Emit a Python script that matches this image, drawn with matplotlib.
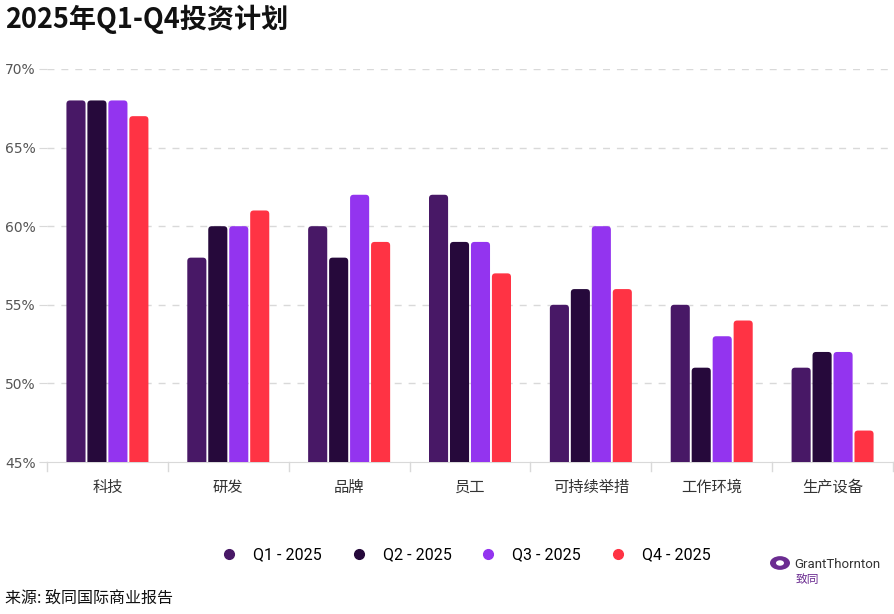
import matplotlib

matplotlib.use("Agg")
import matplotlib.pyplot as plt
from matplotlib.lines import Line2D
from matplotlib.patches import FancyBboxPatch, Circle

plt.rcParams["font.family"] = ["Noto Sans CJK SC", "DejaVu Sans"]

# --- data -------------------------------------------------------------------
categories = ["科技", "研发", "品牌", "员工", "可持续举措", "工作环境", "生产设备"]
series_names = ["Q1 - 2025", "Q2 - 2025", "Q3 - 2025", "Q4 - 2025"]
q1 = [68, 58, 60, 62, 55, 55, 51]
q2 = [68, 60, 58, 59, 56, 51, 52]
q3 = [68, 60, 62, 59, 60, 53, 52]
q4 = [67, 61, 59, 57, 56, 54, 47]
yticks = [45, 50, 55, 60, 65, 70]

COLORS = ["#481866", "#26093b", "#9334ef", "#ff3344"]
GRID = "#d9d9d9"
LABEL = "#555555"

W, H = 895, 614
AX_L, AX_R, AX_T, AX_B = 47, 893, 69, 462
fig = plt.figure(figsize=(W / 100, H / 100), dpi=100)
fig.patch.set_facecolor("white")
ax = fig.add_axes([AX_L / W, 1 - AX_B / H, (AX_R - AX_L) / W, (AX_B - AX_T) / H])

ax.set_xlim(-0.5, len(categories) - 0.5)
ax.set_ylim(45, 70)

# px -> data scale, used for the rounded bar tops
x_per_px = len(categories) / (AX_R - AX_L)
y_per_px = 25 / (AX_B - AX_T)

bw = 0.158
step = 0.1735
for si, vals in enumerate([q1, q2, q3, q4]):
    for ci, v in enumerate(vals):
        x0 = ci + (si - 1.5) * step - bw / 2
        patch = FancyBboxPatch(
            (x0, 43), bw, v - 43,
            boxstyle=f"round,pad=0,rounding_size={3.5 * x_per_px}",
            mutation_aspect=y_per_px / x_per_px,
            facecolor=COLORS[si], edgecolor="none", zorder=3,
        )
        ax.add_patch(patch)

ax.set_yticks(yticks)
ax.set_yticklabels([f"{t}%" for t in yticks], color=LABEL, fontsize=10,
                   family=["DejaVu Sans"])
for t in yticks[1:]:
    ax.axhline(t, color=GRID, lw=1, ls=(0, (5, 5)), zorder=1)
ax.tick_params(axis="y", length=6, color=GRID, pad=2)

ax.set_xticks(range(len(categories)))
ax.set_xticklabels(categories, color="#333333", fontsize=11)
ax.tick_params(axis="x", length=0, pad=12)
for b in [i - 0.5 for i in range(len(categories) + 1)]:
    ax.plot([b, b], [45, 45 - 9 * y_per_px], color=GRID, lw=1, clip_on=False)

for s in ["top", "right", "left"]:
    ax.spines[s].set_visible(False)
ax.spines["bottom"].set_color(GRID)

# --- title, legend, source, logo ------------------------------------------
fig.text(5 / W, 1 - 19 / H, "2025年Q1-Q4投资计划", fontsize=19.5, fontweight="bold",
         va="center", ha="left", color="#111111")

handles = [Line2D([0], [0], marker="o", ls="none", color=c, ms=7, label=n)
           for c, n in zip(COLORS, series_names)]
fig.legend(handles=handles, loc="center", bbox_to_anchor=(462 / W, 1 - 555 / H),
           ncol=4, frameon=False, handletextpad=0.5, columnspacing=1.3,
           prop={"family": ["Roboto", "DejaVu Sans"], "size": 11.5})

fig.text(5 / W, 1 - 598 / H, "来源: 致同国际商业报告", fontsize=11.5, va="center",
         color="#111111")

fig.patches.append(Circle((780 / W, 1 - 563 / H), 10 / W, transform=fig.transFigure,
                          facecolor="#6b2c91", edgecolor="none"))
fig.patches.append(Circle((780 / W, 1 - 563 / H), 4 / W, transform=fig.transFigure,
                          facecolor="white", edgecolor="none"))
fig.text(794 / W, 1 - 564 / H, "GrantThornton", fontsize=9.5, va="center",
         color="#333333", family=["Roboto", "DejaVu Sans"])
fig.text(796 / W, 1 - 580 / H, "致同", fontsize=8.5, va="center", color="#6b2c91")

fig.savefig("out.png", dpi=100)
